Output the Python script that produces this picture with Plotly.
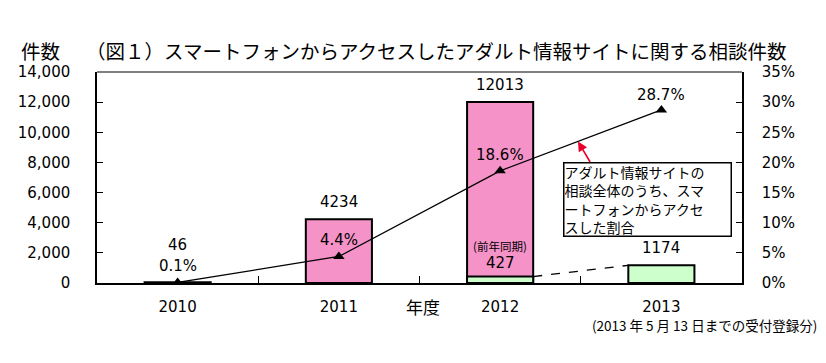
import plotly.graph_objects as go

years = ["2010", "2011", "2012", "2013"]
cases = [46, 4234, 12013, None]
prior_period = [None, None, 427, 1174]
share_pct = [0.1, 4.4, 18.6, 28.7]
case_labels = ["46", "4234", "12013", "1174"]
pct_labels = ["0.1%", "4.4%", "18.6%", "28.7%"]

title = "（図１）スマートフォンからアクセスしたアダルト情報サイトに関する相談件数"
y_title = "件数"
x_title = "年度"
note_box = "アダルト情報サイトの<br>相談全体のうち、スマ<br>ートフォンからアクセ<br>スした割合"
footnote = "(2013 年 5 月 13 日までの受付登録分)"

PINK = "#F592C8"
GREEN = "#CCFFCC"
BAR_W = 0.41
NUM_FONT = "DejaVu Sans"
JP_FONT = "Noto Sans CJK JP"

fig = go.Figure()
fig.add_trace(go.Bar(x=years, y=cases, width=BAR_W, marker=dict(color=PINK, line=dict(color="black", width=2)),
                     showlegend=False, hoverinfo="skip"))
fig.add_trace(go.Bar(x=years, y=prior_period, width=BAR_W, marker=dict(color=GREEN, line=dict(color="black", width=2)),
                     showlegend=False, hoverinfo="skip"))
fig.add_trace(go.Scatter(x=years, y=share_pct, yaxis="y2", mode="lines+markers",
                         line=dict(color="black", width=1.3),
                         marker=dict(symbol="triangle-up", size=10, color="black"),
                         showlegend=False, hoverinfo="skip"))

num_font = dict(family=NUM_FONT, size=15, color="black")

# bar value labels (x given as category index)
for i, lab in enumerate(case_labels):
    v = cases[i] if cases[i] is not None else prior_period[i]
    shift = 26 if i == 0 else 6
    fig.add_annotation(x=i, y=v, xref="x", yref="y", text=lab, showarrow=False,
                       yanchor="bottom", yshift=shift, font=num_font)
# percentage labels
for i, (p, lab) in enumerate(zip(share_pct, pct_labels)):
    fig.add_annotation(x=i, y=p, xref="x", yref="y2", text=lab, showarrow=False,
                       yanchor="bottom", yshift=4 if i == 3 else 5, font=num_font)
# prior period labels
fig.add_annotation(x=2, y=prior_period[2], xref="x", yref="y", text="(前年同期)", showarrow=False,
                   yanchor="bottom", yshift=21, font=dict(family=JP_FONT, size=11.5, color="black"))
fig.add_annotation(x=2, y=prior_period[2], xref="x", yref="y", text="427", showarrow=False,
                   yanchor="bottom", yshift=3, font=num_font)

# titles
fig.add_annotation(x=(84 - 97) / 645, y=(283 - 51) / 211, xref="paper", yref="paper", text=title, showarrow=False,
                   xanchor="left", yanchor="middle", font=dict(family=JP_FONT, size=19.5, color="black"))
fig.add_annotation(x=(40 - 97) / 645, y=(283 - 51) / 211, xref="paper", yref="paper", text=y_title, showarrow=False,
                   xanchor="center", yanchor="middle", font=dict(family=JP_FONT, size=19.5, color="black"))
fig.add_annotation(x=(423 - 97) / 645, y=(283 - 306) / 211, xref="paper", yref="paper", text=x_title, showarrow=False,
                   xanchor="center", yanchor="middle", font=dict(family=JP_FONT, size=17, color="black"))
fig.add_annotation(x=(819 - 97) / 645, y=(283 - 325) / 211, xref="paper", yref="paper", text=footnote,
                   showarrow=False, xanchor="right", yanchor="middle",
                   font=dict(family=JP_FONT, size=13.5, color="black"))
# explanatory box
fig.add_annotation(x=(647 - 97) / 645, y=(283 - 199.5) / 211, xref="paper", yref="paper", text=note_box,
                   showarrow=False, xanchor="center", yanchor="middle", align="left",
                   width=166, height=72, bgcolor="white", bordercolor="black", borderwidth=1.5, borderpad=0,
                   font=dict(family=JP_FONT, size=14, color="black"))
# red arrow pointing at line
fig.add_annotation(x=(578 - 97) / 645, y=(283 - 141.5) / 211, xref="paper", yref="paper", text="",
                   showarrow=True, ax=13, ay=22, arrowhead=2, arrowsize=1.2, arrowwidth=1.6, arrowcolor="#E8002A")

# dashed connector between prior-period bars
fig.add_shape(type="line", xref="x", yref="y", x0=2 + BAR_W / 2, y0=prior_period[2], x1=3 - BAR_W / 2,
              y1=prior_period[3], line=dict(color="black", width=1.3, dash="dash"))
# top frame line
fig.add_shape(type="line", xref="paper", yref="paper", x0=0, x1=1, y0=1, y1=1,
              line=dict(color="#808080", width=2))

fig.update_layout(
    width=826, height=363,
    margin=dict(l=97, r=84, t=72, b=80),
    paper_bgcolor="white", plot_bgcolor="white",
    barmode="overlay",
    xaxis=dict(type="category", categoryorder="array", categoryarray=years, range=[-0.5, 3.5],
               showline=True, linecolor="black", linewidth=1.5, ticks="inside", tickson="boundaries",
               ticklen=7, tickcolor="black", showgrid=False, ticklabelstandoff=9,
               tickfont=num_font),
    yaxis=dict(range=[0, 14000], dtick=2000, tickformat=",", showline=True, linecolor="black", linewidth=1.5,
               ticks="inside", ticklen=6, tickcolor="black", showgrid=False, zeroline=False,
               ticklabelstandoff=22, tickfont=num_font),
    yaxis2=dict(range=[0, 35], dtick=5, ticksuffix="%", overlaying="y", side="right", showline=True,
                linecolor="black", linewidth=1.5, ticks="inside", ticklen=6, tickcolor="black",
                showgrid=False, zeroline=False, ticklabelstandoff=15,
                tickfont=num_font),
)

fig.write_html("out.html", config={"displayModeBar": False},
               post_script="document.body.style.margin='0';")
